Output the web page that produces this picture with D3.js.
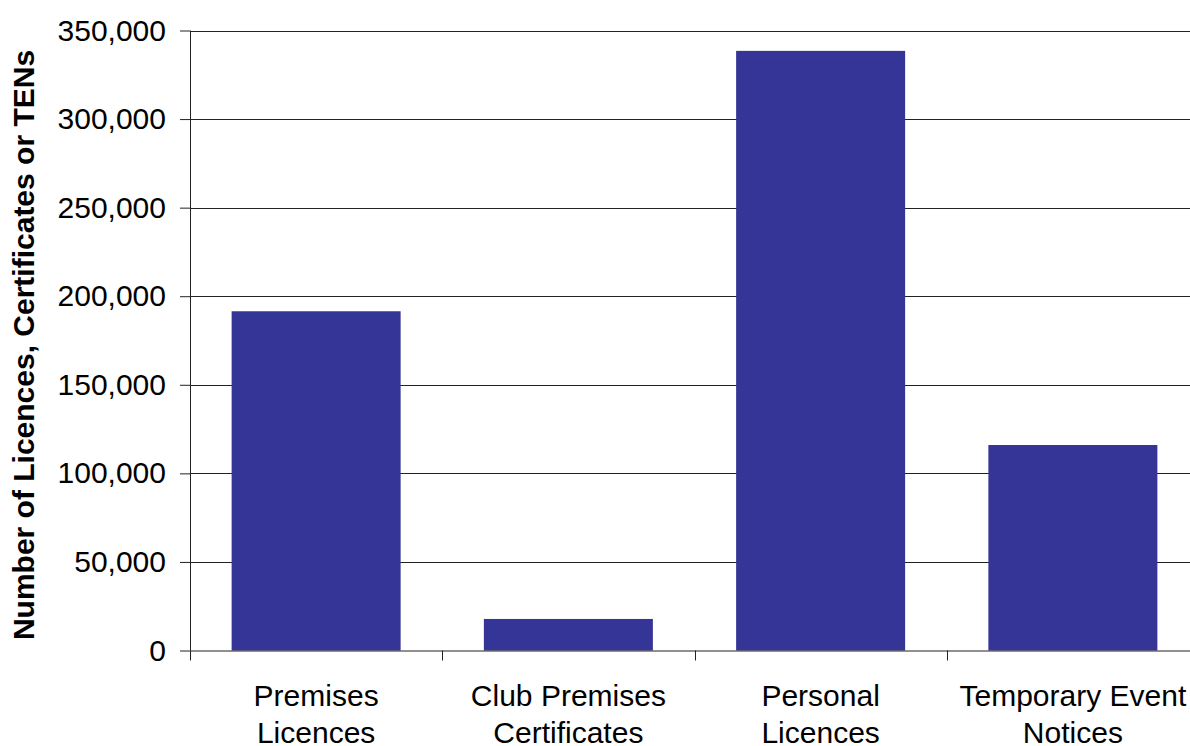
<!DOCTYPE html>
<html><head><meta charset="utf-8">
<script src="https://cdn.jsdelivr.net/npm/d3@7"></script>
<style>body{margin:0;background:#fff}svg{display:block}</style>
</head><body>
<svg id="c" width="1190" height="746"></svg>
<script>
const categories = [["Premises","Licences"],["Club Premises","Certificates"],["Personal","Licences"],["Temporary Event","Notices"]];
const values = [191500, 17800, 338500, 116000];
const yTicks = [0,50000,100000,150000,200000,250000,300000,350000];
const yTitle = "Number of Licences, Certificates or TENs";

(function(){
const svg = d3.select("#c");
const L = 190, R = 1199, T = 30.5, B = 650.5;
const keys = categories.map((c,i)=>i);
const x = d3.scaleBand().domain(keys).range([L,R]).paddingInner(0.33).paddingOuter(0.165);
const xb = d3.scaleBand().domain(keys).range([L,R]);
const y = d3.scaleLinear().domain([0,350000]).range([B,T]);
const font = "'Liberation Sans', Arial, sans-serif";

// gridlines
svg.append("g").selectAll("line").data(yTicks.filter(d=>d>0)).join("line")
  .attr("x1",L).attr("x2",1190).attr("y1",d=>Math.round(y(d))+0.5).attr("y2",d=>Math.round(y(d))+0.5)
  .attr("stroke","#222").attr("stroke-width",1.2);

// bars
svg.append("g").selectAll("rect").data(values).join("rect")
  .attr("x",(d,i)=>x(i)).attr("width",x.bandwidth())
  .attr("y",d=>y(d)).attr("height",d=>B-y(d))
  .attr("fill","#353598");

// y axis
const ya = svg.append("g").attr("transform",`translate(${L},0)`)
  .call(d3.axisLeft(y).tickValues(yTicks).tickFormat(d3.format(",")).tickSize(10).tickPadding(14));
ya.select(".domain").attr("d",`M0.5,${T}V${B}`).attr("stroke","#222");
ya.selectAll(".tick line").attr("stroke","#222");
ya.selectAll("text").attr("font-family",font).attr("font-size",30).attr("fill","#000");

// x axis
svg.append("line").attr("x1",L).attr("x2",1190).attr("y1",B+0.5).attr("y2",B+0.5).attr("stroke","#222").attr("stroke-width",1.2);
const bounds = keys.map(i=>xb(i)).concat([R]);
svg.append("g").selectAll("line").data(bounds).join("line")
  .attr("x1",d=>Math.round(d)+0.5).attr("x2",d=>Math.round(d)+0.5).attr("y1",B).attr("y2",B+10)
  .attr("stroke","#222");
const xl = svg.append("g").selectAll("text").data(categories).join("text")
  .attr("x",(d,i)=>xb(i)+xb.bandwidth()/2).attr("y",706)
  .attr("text-anchor","middle").attr("font-family",font).attr("font-size",30).attr("fill","#000");
xl.selectAll("tspan").data(d=>d).join("tspan")
  .attr("x",function(){return d3.select(this.parentNode).attr("x");})
  .attr("dy",(d,i)=>i?36.5:0).text(d=>d);

// y title
svg.append("text").attr("transform",`translate(34,345) rotate(-90)`)
  .attr("text-anchor","middle").attr("font-family",font).attr("font-weight","bold").attr("font-size",30)
  .attr("fill","#000").text(yTitle);
})();
</script>
</body></html>
